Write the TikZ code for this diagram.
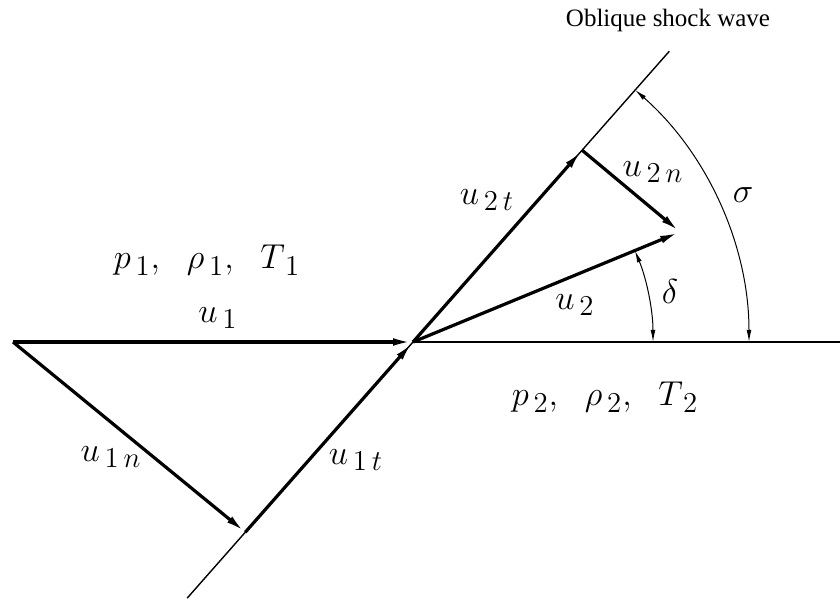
\documentclass[tikz,border=0pt]{standalone}
\usepackage{fontspec}
\newfontfamily\tnr{Liberation Serif}
\usetikzlibrary{arrows.meta,calc}
\begin{document}
\begin{tikzpicture}[x=0.5pt,y=0.5pt,
  vec/.style={line width=1.6pt,-{Latex[length=10pt,width=3.8pt]}},
  thinline/.style={line width=0.7pt},
  ang/.style={line width=0.5pt,{Latex[length=6pt,width=2.4pt]}-{Latex[length=6pt,width=2.4pt]}},
  lab/.style={font=\fontsize{19}{22}\selectfont, inner sep=0pt}]
\useasboundingbox (0,0) rectangle (840,600);
\coordinate (O) at (413,258);
\coordinate (A) at (13,258);
\coordinate (E) at (840,258);
\coordinate (B) at ($(O)+(228.6:253.6)$);
\coordinate (C) at ($(O)+(48.6:255.7)$);
\coordinate (D) at ($(O)+(22.4:288.8)$);
\coordinate (S1) at ($(O)+(228.6:341.5)$);
\coordinate (S2) at ($(O)+(48.6:387.6)$);
% thin lines
\draw[thinline] (S1) -- (S2);
\draw[thinline] (O) -- (E);
% vectors
\draw[vec] (A) -- (O);
\draw[vec] (A) -- (B);
\draw[vec] (B) -- (O);
\draw[vec] (O) -- (C);
\draw[vec] (C) -- (D);
\draw[vec] (O) -- (D);
% angles
\draw[ang] ($(O)+(240,0)$) arc[start angle=0,end angle=22.4,radius=240];
\draw[ang] ($(O)+(336,0)$) arc[start angle=0,end angle=48.6,radius=336];
% labels
\node[font=\tnr\fontsize{12.5}{14}\selectfont] (title) at (668,580) {Oblique shock wave};
\node[lab] (sig) at (743,405) {$\sigma$};
\node[lab] (del) at (670,308) {$\delta$};
\node[lab] (l2n) at (653,428) {$u_{\,2\,n}$};
\node[lab] (l2t) at (487,400) {$u_{\,2\,t}$};
\node[lab] (l2) at (575,295) {$u_{\,2}$};
\node[lab] (l1) at (218,282) {$u_{\,1}$};
\node[lab] (l1n) at (111,143) {$u_{\,1\,n}$};
\node[lab] (l1t) at (356,140) {$u_{\,1\,t}$};
\node[lab] (st1) at (207,340) {$p_{\,1},\;\ \rho_{\,1},\;\ T_{\,1}$};
\node[lab] (st2) at (605,203) {$p_{\,2},\;\ \rho_{\,2},\;\ T_{\,2}$};
\end{tikzpicture}
\end{document}
